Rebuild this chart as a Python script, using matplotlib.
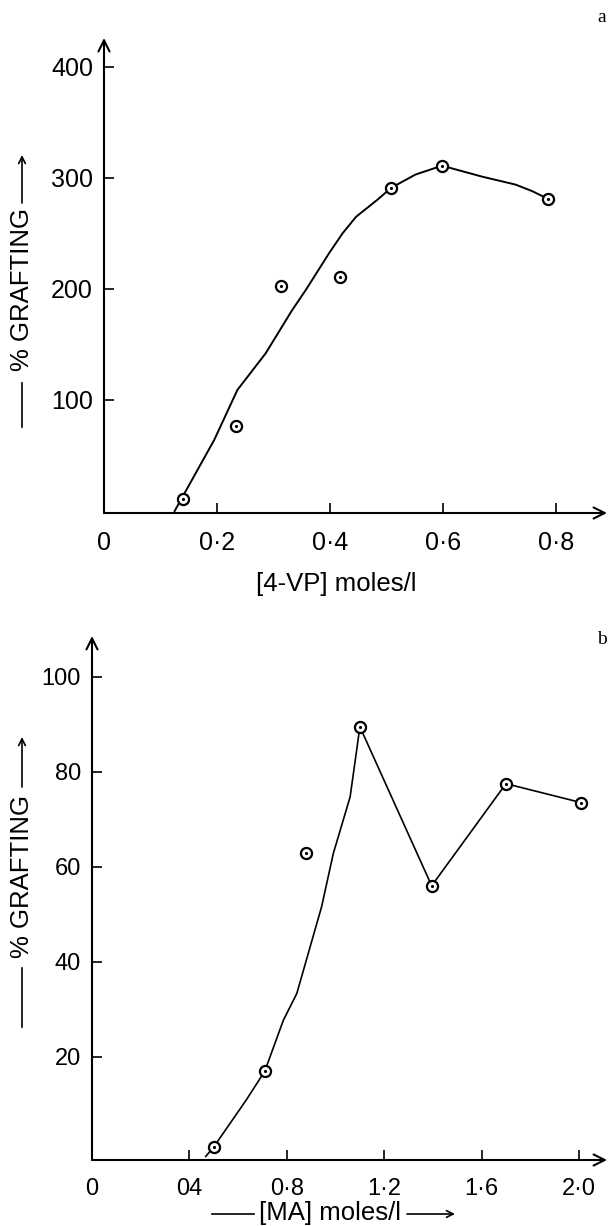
import numpy as np
import matplotlib
matplotlib.use('Agg')
import matplotlib.pyplot as plt

plt.rcParams['font.family'] = ['Liberation Sans', 'DejaVu Sans']

# (a) 4-VP grafting
vp_conc = [0.14, 0.233, 0.314, 0.417, 0.508, 0.598, 0.786]
vp_graft = [11, 77, 203, 211, 291, 311, 281]
vp_fit_x = [0.125, 0.195, 0.236, 0.286, 0.333, 0.357, 0.398, 0.422, 0.446,
            0.483, 0.508, 0.551, 0.598, 0.670, 0.728, 0.758, 0.786]
vp_fit_y = [0, 64, 109, 142, 181, 199, 232, 250, 265,
            280, 291, 303, 311, 301, 294, 288, 281]
vp_xticks = [0, 0.2, 0.4, 0.6, 0.8]
vp_xlabels = ['0', '0\u00b72', '0\u00b74', '0\u00b76', '0\u00b78']
vp_yticks = [100, 200, 300, 400]

# (b) MA grafting
ma_conc = [0.50, 0.71, 0.88, 1.10, 1.395, 1.70, 2.01]
ma_graft = [1, 17, 63, 89.5, 56, 77.5, 73.5]
ma_fit_x = [0.467, 0.50, 0.635, 0.71, 0.786, 0.841, 0.943, 0.991, 1.06,
            1.087, 1.10, 1.395, 1.70, 2.01]
ma_fit_y = [-1, 1, 11, 17, 27.7, 33.3, 51.6, 62.8, 74.7,
            84.6, 89.5, 56, 77.5, 73.5]
ma_xticks = [0, 0.4, 0.8, 1.2, 1.6, 2.0]
ma_xlabels = ['0', '04', '0\u00b78', '1\u00b72', '1\u00b76', '2\u00b70']
ma_yticks = [20, 40, 60, 80, 100]

W, H = 610, 1226
fig = plt.figure(figsize=(W / 100, H / 100), dpi=100)


def px(x, y):
    # top-left pixel position -> figure fraction
    return x / W, 1 - y / H


def arrow(x0, y0, x1, y1, lw=1.2, ms=12):
    fig.add_artist(matplotlib.patches.FancyArrowPatch(
        px(x0, y0), px(x1, y1), transform=fig.transFigure,
        arrowstyle='->', mutation_scale=ms, lw=lw, color='black',
        shrinkA=0, shrinkB=0))


def line(x0, y0, x1, y1, lw=1.2):
    fig.add_artist(matplotlib.lines.Line2D(
        [px(x0, y0)[0], px(x1, y1)[0]], [px(x0, y0)[1], px(x1, y1)[1]],
        transform=fig.transFigure, lw=lw, color='black'))


def setup(ax, xticks, xlabels, yticks, fs):
    for s in ax.spines.values():
        s.set_visible(False)
    kw = dict(xycoords='axes fraction', textcoords='axes fraction')
    ap = dict(arrowstyle='->', lw=1.5, color='black', mutation_scale=20,
              shrinkA=0, shrinkB=0)
    ax.annotate('', xy=(1, 0), xytext=(0, 0), arrowprops=ap, **kw)
    ax.annotate('', xy=(0, 1), xytext=(0, 0), arrowprops=ap, **kw)
    ax.set_xticks(xticks)
    ax.set_xticklabels(xlabels)
    ax.set_yticks(yticks)
    ax.tick_params(direction='in', length=7, width=1.2, labelsize=fs)
    ax.tick_params(axis='x', pad=13)
    ax.tick_params(axis='y', pad=8)


def circles(ax, x, y):
    ax.plot(x, y, 'o', ms=8, mfc='white', mec='black', mew=1.6,
            zorder=3, clip_on=False)
    ax.plot(x, y, '.', ms=2.5, color='black', zorder=4, clip_on=False)


# panel a
ax1 = fig.add_axes([104 / W, 1 - 513 / H, 503 / W, 475 / H])
ax1.set_xlim(0, 0.890)
ax1.set_ylim(-1.8, 426)
setup(ax1, vp_xticks, vp_xlabels, vp_yticks, 18)
ax1.plot(vp_fit_x, vp_fit_y, color='black', lw=1.4, clip_on=False)
circles(ax1, vp_conc, vp_graft)

# panel b
ax2 = fig.add_axes([92 / W, 1 - 1160 / H, 515 / W, 524 / H])
ax2.set_xlim(0, 2.115)
ax2.set_ylim(-1.75, 108.6)
setup(ax2, ma_xticks, ma_xlabels, ma_yticks, 17)
ax2.plot(ma_fit_x, ma_fit_y, color='black', lw=1.2, clip_on=False)
circles(ax2, ma_conc, ma_graft)

# axis titles
fig.text(*px(336, 584), '[4-VP] moles/l', fontsize=18.5, ha='center', va='center')

fig.text(*px(330, 1213), '[MA] moles/l', fontsize=18.5, ha='center', va='center')
line(212, 1214, 254, 1214)
arrow(407, 1214, 455, 1214)

fig.text(*px(22, 290), '% GRAFTING', fontsize=18.5, rotation=90,
         ha='center', va='center')
line(22, 383, 22, 427)
arrow(22, 203, 22, 155)

fig.text(*px(22, 877), '% GRAFTING', fontsize=18.5, rotation=90,
         ha='center', va='center')
line(22, 968, 22, 1027)
arrow(22, 787, 22, 737)

# panel letters
fig.text(*px(602, 18), 'a', fontsize=14, family='Liberation Serif',
         ha='center', va='center')
fig.text(*px(602, 640), 'b', fontsize=14, family='Liberation Serif',
         ha='center', va='center')

fig.savefig('out.png', dpi=100)
